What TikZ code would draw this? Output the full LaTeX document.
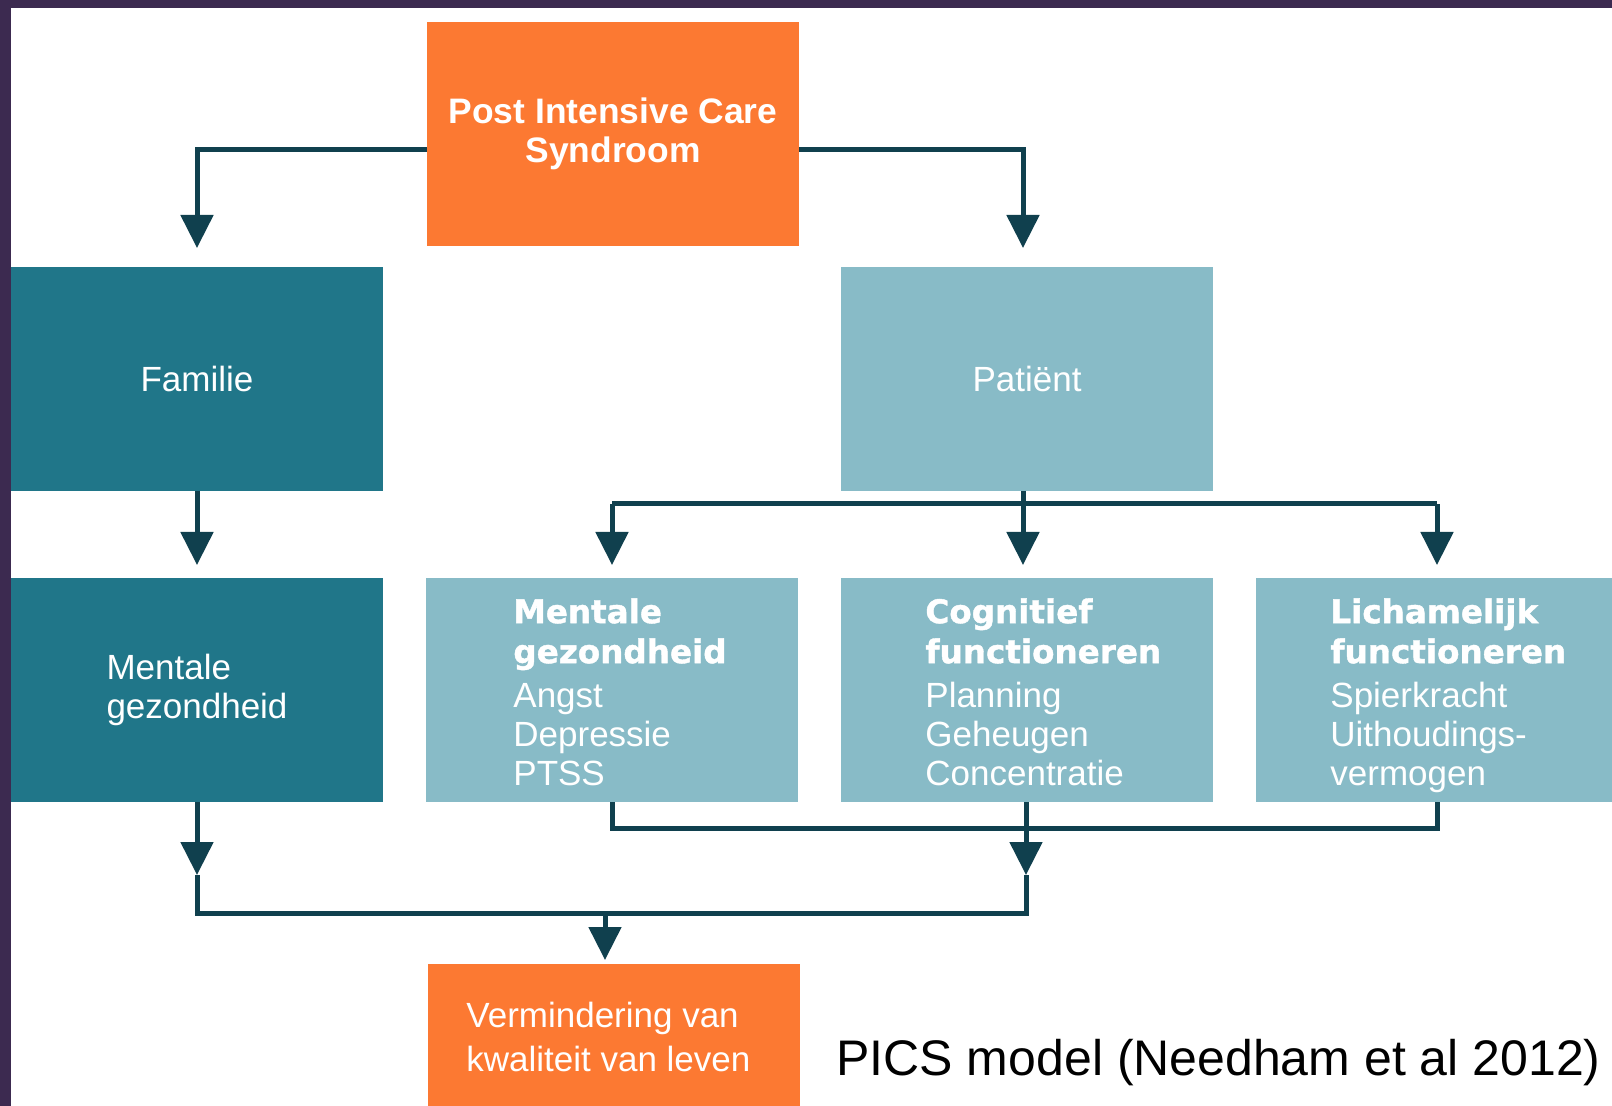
\documentclass[tikz,border=0pt]{standalone}
\usepackage{fontspec}
\setmainfont{Liberation Sans}
\newfontfamily\hvfont{DejaVu Sans}[BoldFeatures={FakeBold=1.2}]
\usetikzlibrary{arrows.meta}
\definecolor{orng}{RGB}{252,121,50}
\definecolor{tealdark}{RGB}{32,118,137}
\definecolor{teallight}{RGB}{136,187,199}
\definecolor{linec}{RGB}{16,64,78}
\definecolor{purp}{RGB}{60,42,80}
\newcommand\hvy{\hvfont\bfseries\fontsize{16.3pt}{19.5pt}\selectfont}
\begin{document}
\begin{tikzpicture}[x=0.5pt,y=-0.5pt,
  box/.style={rectangle, minimum width=186pt, minimum height=112pt, inner sep=0pt, outer sep=0pt, text=white},
  reg/.style={font=\fontsize{17.5pt}{19.5pt}\selectfont},
  ln/.style={draw=linec, line width=2.5pt},
  arr/.style={ln, -{Triangle[width=16pt,length=16.5pt]}},
  sublist/.style={anchor=north west, align=left, inner sep=0pt, text=white, reg}]
\useasboundingbox (0,0) rectangle (1612,1106);
\clip (0,0) rectangle (1612,1106);
\fill[white] (0,0) rectangle (1612,1106);

% boxes
\node[box, fill=orng, align=center, font=\bfseries\fontsize{17.7pt}{19.5pt}\selectfont] (pics) at (613,134) {Post Intensive Care\\Syndroom};
\node[box, fill=tealdark, reg] (fam) at (197,379) {Familie};
\node[box, fill=teallight, reg] (pat) at (1027,379) {Patiënt};
\node[box, fill=tealdark, reg, align=left] (mfam) at (197,690) {Mentale\\gezondheid};
\node[box, fill=teallight] (mg) at (612,690) {};
\node[box, fill=teallight] (cg) at (1027,690) {};
\node[box, fill=teallight] (lf) at (1442,690) {};
\node[box, fill=orng, minimum height=73pt] (vk) at (614,1037) {};
\node[anchor=west, inner sep=0pt, align=left, text=white, font=\fontsize{17.5pt}{22pt}\selectfont] (vkt) at (466,1037) {Vermindering van\\kwaliteit van leven};

% texts in row 2
\node[sublist] (mgt) at (513,598) {{\hvy Mentale}\\[0.5pt]{\hvy gezondheid}\\[2.5pt]Angst\\Depressie\\PTSS};
\node[sublist] (cgt) at (925,598) {{\hvy Cognitief}\\[0.5pt]{\hvy functioneren}\\[2.5pt]Planning\\Geheugen\\Concentratie};
\node[sublist] (lft) at (1330,598) {{\hvy Lichamelijk}\\[0.5pt]{\hvy functioneren}\\[2.5pt]Spierkracht\\Uithoudings-\\vermogen};

\node[anchor=base west, inner sep=0pt, font=\fontsize{25pt}{30pt}\selectfont] (cap) at (836,1075) {PICS model (Needham et al 2012)};

% helper coordinates
\coordinate (ytop) at (0,150);
\coordinate (ybr) at (0,504);
\coordinate (yup) at (0,828);
\coordinate (ymid) at (0,875);
\coordinate (ybot) at (0,913);
\coordinate (xpat) at (1023,0);
\coordinate (xcg) at (1026,0);
\coordinate (xlf) at (1437,0);
\coordinate (join) at (605,913);

% connectors
\draw[arr, shorten >=9.5pt] (pics.west |- ytop) -| (fam.north);
\draw[arr, shorten >=9.5pt] (pics.east |- ytop) -| (xpat |- pat.north);
\draw[arr, shorten >=6.5pt] (fam.south) -- (mfam.north);
\draw[ln] (xpat |- pat.south) -- (xpat |- ybr);
\draw[ln] (mg.north |- ybr) -- (xlf |- ybr);
\draw[arr, shorten >=6.5pt] (mg.north |- ybr) -- (mg.north);
\draw[arr, shorten >=6.5pt] (xpat |- ybr) -- (xpat |- cg.north);
\draw[arr, shorten >=6.5pt] (xlf |- ybr) -- (xlf |- lf.north);

\draw[ln] (mg.south) |- (xlf |- yup) -- (xlf |- lf.south);
\draw[arr] (xcg |- cg.south) -- (xcg |- ymid);
\draw[arr] (mfam.south) -- (mfam.south |- ymid);
\draw[ln] (mfam.south |- ymid) |- (xcg |- ybot) -- (xcg |- ymid);
\draw[arr, shorten >=2pt] (join) -- (join |- vk.north);

% frame
\fill[purp] (0,0) rectangle (1612,8);
\fill[purp] (0,0) rectangle (11,1106);
\end{tikzpicture}
\end{document}
